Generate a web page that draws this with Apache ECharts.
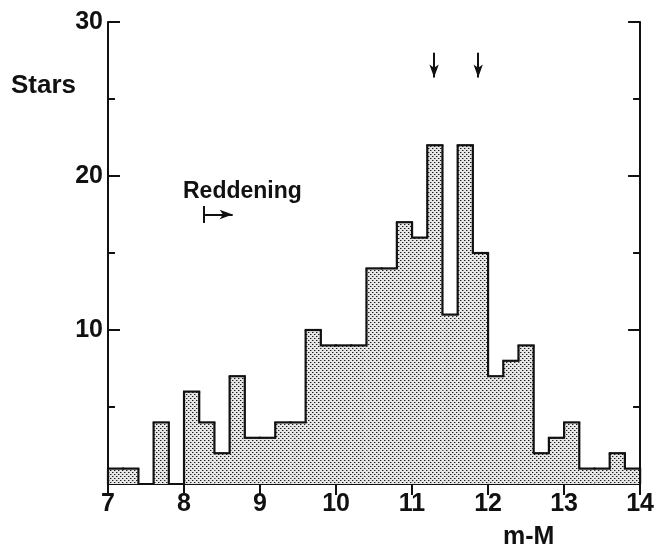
<!DOCTYPE html>
<html>
<head>
<meta charset="utf-8">
<style>html,body{margin:0;padding:0;background:#fff;}#chart{width:657px;height:550px;}</style>
<script src="https://cdn.jsdelivr.net/npm/echarts@6/dist/echarts.min.js"></script>
</head>
<body>
<div id="chart"></div>
<script>
// Histogram bins (m-M), width 0.2
const binStarts = [7.0,7.2,7.4,7.6,7.8,8.0,8.2,8.4,8.6,8.8,9.0,9.2,9.4,9.6,9.8,10.0,10.2,10.4,10.6,10.8,11.0,11.2,11.4,11.6,11.8,12.0,12.2,12.4,12.6,12.8,13.0,13.2,13.4,13.6,13.8];
const counts    = [1,  1,  0,  4,  0,  6,  4,  2,  7,  3,  3,  4,  4,  10, 9,  9,  9,  14, 14, 17, 16, 22, 11, 22, 15, 7,  8,  9,  2,  3,  4,  1,  1,  2,  1];
const binWidth = 0.2;
const xTicks = [7,8,9,10,11,12,13,14];
const yTickLabels = [10,20,30];
const distanceArrows = [11.29, 11.87];
const reddening = {x0: 8.26, x1: 8.64, y: 17.5};

const pc = document.createElement('canvas');
pc.width = 4; pc.height = 4;
const pctx = pc.getContext('2d');
pctx.fillStyle = '#e6e6e6'; pctx.fillRect(0,0,4,4);
pctx.fillStyle = '#1a1a1a';
pctx.fillRect(0,0,1,1); pctx.fillRect(2,2,1,1);
pctx.fillStyle = '#9a9a9a';
pctx.fillRect(1,0,1,1); pctx.fillRect(3,2,1,1);

const data = binStarts.map((s,i)=>[s, s+binWidth, counts[i], i>0?counts[i-1]:0, i===counts.length-1?1:0]);

const chart = echarts.init(document.getElementById('chart'));
const FONT = 'Liberation Sans';
const axisCommon = {
  axisLine:{show:true, lineStyle:{color:'#111', width:2}},
  splitLine:{show:false}
};
chart.setOption({
  animation:false,
  grid:{left:108, right:13, top:22, bottom:66, containLabel:false},
  xAxis:[
    Object.assign({type:'value', min:7, max:14, interval:1, position:'bottom',
      axisTick:{inside:true, length:11, lineStyle:{color:'#111', width:2}},
      axisLabel:{margin:8, color:'#111', fontFamily:FONT, fontWeight:'bold', fontSize:25,
        formatter:v=>xTicks.includes(v)?String(v):''}}, axisCommon),
    Object.assign({type:'value', min:7, max:14, interval:1, position:'top',
      axisTick:{inside:true, length:11, lineStyle:{color:'#111', width:2}},
      axisLabel:{show:false}}, axisCommon)
  ],
  yAxis:[
    Object.assign({type:'value', min:0, max:30, interval:10, position:'left',
      axisTick:{inside:true, length:12, lineStyle:{color:'#111', width:2}},
      minorTick:{show:true, splitNumber:2, length:7, lineStyle:{color:'#111', width:2}},
      axisLabel:{margin:5, color:'#111', fontFamily:FONT, fontWeight:'bold', fontSize:25,
        formatter:v=>yTickLabels.includes(v)?String(v):''}}, axisCommon),
    Object.assign({type:'value', min:0, max:30, interval:10, position:'right',
      axisTick:{inside:true, length:12, lineStyle:{color:'#111', width:2}},
      minorTick:{show:true, splitNumber:2, length:7, lineStyle:{color:'#111', width:2}},
      axisLabel:{show:false}}, axisCommon)
  ],
  series:[
    {
      type:'custom',
      coordinateSystem:'cartesian2d',
      xAxisIndex:0, yAxisIndex:0,
      data:data,
      renderItem:function(params, api){
        const s=api.value(0), e=api.value(1), v=api.value(2), p=api.value(3), last=api.value(4);
        const bl=api.coord([s,0]), tr=api.coord([e,v]);
        const pPrev=api.coord([s,p]);
        const children=[];
        if(v>0){
          children.push({type:'rect', shape:{x:bl[0], y:tr[1], width:tr[0]-bl[0], height:bl[1]-tr[1]},
            style:{fill:{image:pc, repeat:'repeat'}}, z2:1});
          children.push({type:'line', shape:{x1:bl[0]-1, y1:tr[1], x2:tr[0]+1, y2:tr[1]},
            style:{stroke:'#111', lineWidth:2.2}, z2:3});
        }
        children.push({type:'line', shape:{x1:bl[0], y1:pPrev[1], x2:bl[0], y2:tr[1]},
          style:{stroke:'#111', lineWidth:2.2}, z2:3});
        if(last){
          children.push({type:'line', shape:{x1:tr[0], y1:tr[1], x2:tr[0], y2:bl[1]},
            style:{stroke:'#111', lineWidth:2.2}, z2:3});
        }
        return {type:'group', children:children};
      }
    },
    {
      type:'line', data:[], xAxisIndex:0, yAxisIndex:0,
      markLine:{
        silent:true, animation:false,
        label:{show:false},
        lineStyle:{color:'#111', width:2, type:'solid'},
        symbol:['none','arrow'], symbolSize:[7,13],
        data:[
          [{coord:[distanceArrows[0],28.0]},{coord:[distanceArrows[0],26.4]}],
          [{coord:[distanceArrows[1],28.0]},{coord:[distanceArrows[1],26.4]}],
          [{coord:[reddening.x0,reddening.y]},{coord:[reddening.x1,reddening.y]}],
          [{coord:[reddening.x0,reddening.y-0.55],symbol:'none'},{coord:[reddening.x0,reddening.y+0.55],symbol:'none'}]
        ]
      }
    }
  ],
  graphic:[
    {type:'text', left:11, top:73, style:{text:'Stars', fill:'#111', font:'bold 26px "Liberation Sans"'}},
    {type:'text', left:503, top:525, style:{text:'m-M', fill:'#111', font:'bold 25px "Liberation Sans"'}},
    {type:'text', left:183, top:180, style:{text:'Reddening', fill:'#111', font:'bold 23px "Liberation Sans"'}}
  ]
});
</script>
</body>
</html>
